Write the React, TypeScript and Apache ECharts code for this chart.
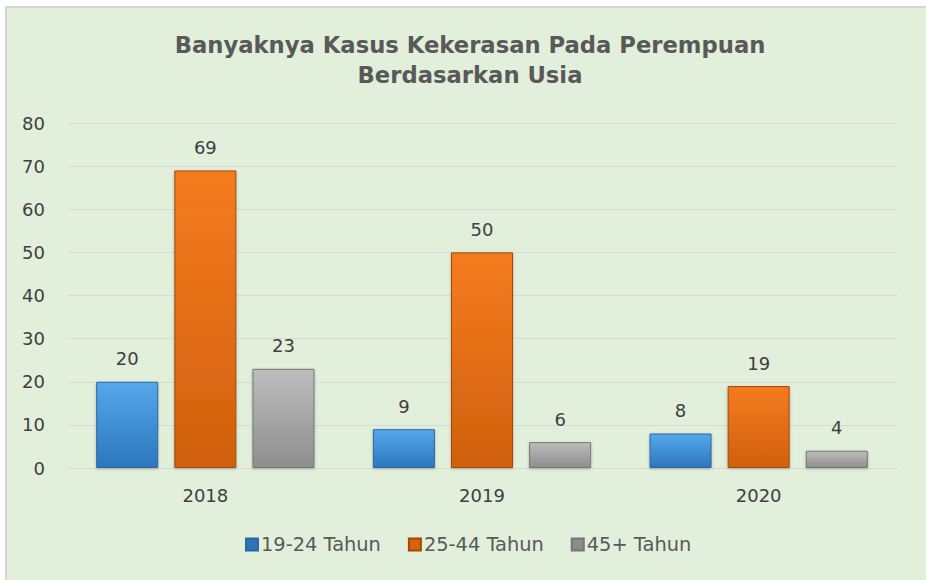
import React, { useEffect, useRef } from "react";
import * as echarts from "echarts";

const categories = ["2018", "2019", "2020"];
const seriesNames = ["19-24 Tahun", "25-44 Tahun", "45+ Tahun"];
const values1924 = [20, 9, 8];
const values2544 = [69, 50, 19];
const values45 = [23, 6, 4];
const yTicks = { min: 0, max: 80, interval: 10 };

const FONT = "'DejaVu Sans', Verdana, sans-serif";

function grad(top: string, bottom: string) {
  return new echarts.graphic.LinearGradient(0, 0, 0, 1, [
    { offset: 0, color: top },
    { offset: 1, color: bottom },
  ]);
}

export default function App() {
  const ref = useRef<HTMLDivElement>(null);
  useEffect(() => {
    if (!ref.current) return;
    const chart = echarts.init(ref.current, null, { renderer: "svg" });
    const styles = [
      { color: grad("#55A8EC", "#2C76BE"), borderColor: "#2A67A3" },
      { color: grad("#F57B1F", "#D0600D"), borderColor: "#A04A0A" },
      { color: grad("#BDBDBD", "#8E8E8E"), borderColor: "#767676" },
    ];
    const legendColors = ["#2E75B6", "#D9620E", "#8C8C8C"];
    const data = [values1924, values2544, values45];
    chart.setOption({
      animation: false,
      backgroundColor: "#ffffff",
      graphic: [
        {
          type: "rect",
          z: -10,
          silent: true,
          shape: { x: 6, y: 7, width: 930, height: 590 },
          style: { fill: "#E2EFDA", stroke: "#D6D6D6", lineWidth: 2 },
        },
      ],
      title: {
        text: "Banyaknya Kasus Kekerasan Pada Perempuan\nBerdasarkan Usia",
        left: 465,
        textAlign: "center",
        top: 25,
        textStyle: {
          fontFamily: FONT,
          fontWeight: "bold",
          fontSize: 22.7,
          lineHeight: 30,
          color: "#595959",
        },
      },
      legend: {
        bottom: 21,
        left: 240,
        itemWidth: 12,
        itemHeight: 12,
        itemGap: 27,
        icon: "rect",
        textStyle: { fontFamily: FONT, fontSize: 19.4, color: "#595959", padding: [0, 0, 0, -2] },
        data: seriesNames.map((n, i) => ({ name: n, itemStyle: { color: legendColors[i] } })),
      },
      grid: { left: 67, right: 29, top: 123, bottom: 112 },
      xAxis: {
        type: "category",
        data: categories,
        axisLine: { lineStyle: { color: "#D9D9D9", width: 1 } },
        axisTick: { show: false },
        axisLabel: { fontFamily: FONT, fontSize: 18, color: "#404040", margin: 18 },
      },
      yAxis: {
        type: "value",
        min: yTicks.min,
        max: yTicks.max,
        interval: yTicks.interval,
        axisLine: { show: false },
        axisTick: { show: false },
        splitLine: { lineStyle: { color: "#D9D9D9", width: 1 } },
        axisLabel: { fontFamily: FONT, fontSize: 18, color: "#404040", margin: 22 },
      },
      series: seriesNames.map((name, i) => ({
        name,
        type: "bar",
        data: data[i],
        barWidth: 62,
        barGap: "26%",
        itemStyle: {
          color: styles[i].color,
          borderColor: styles[i].borderColor,
          borderWidth: 1,
          shadowColor: "rgba(0,0,0,0.25)",
          shadowBlur: 3,
          shadowOffsetY: 1,
        },
        label: {
          show: true,
          position: "top",
          distance: 14,
          fontFamily: FONT,
          fontSize: 18,
          color: "#404040",
        },
      })),
    });
    return () => chart.dispose();
  }, []);
  return (
    <div style={{ position: "fixed", left: 0, top: 0, width: 926, height: 580 }}>
      <div ref={ref} style={{ width: 926, height: 580 }} />
    </div>
  );
}
